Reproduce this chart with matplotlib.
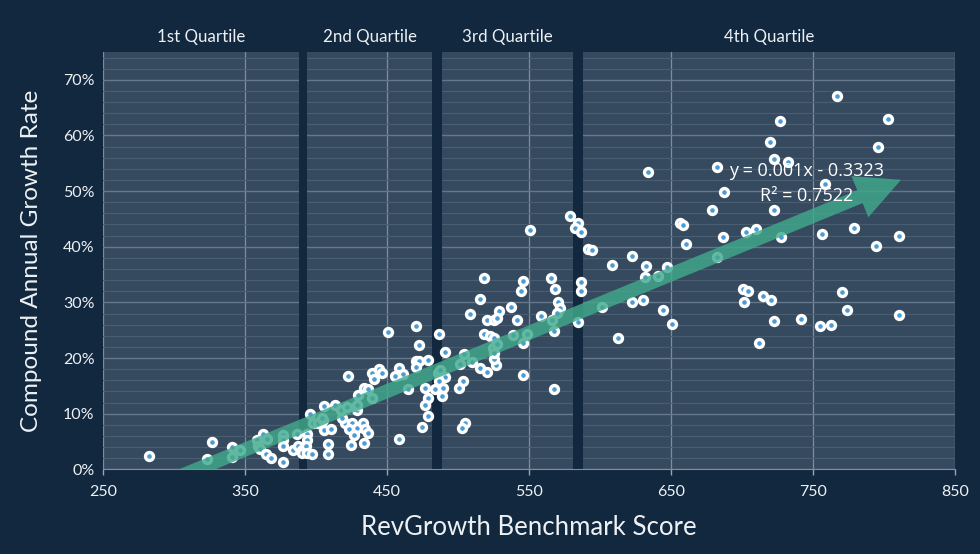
import numpy as np
import matplotlib.pyplot as plt
from matplotlib.patches import FancyArrowPatch
from matplotlib.ticker import MultipleLocator, PercentFormatter
from matplotlib.transforms import blended_transform_factory

# benchmark score / CAGR (%), split in three groups
score_low = [282.8, 327.2, 323.2, 341.2, 341.2, 346.7, 358.4, 359.1, 363.1, 365.5,
             360.7, 365.0, 368.7, 376.9, 376.9, 376.9, 377.1, 383.8, 386.6, 387.7,
             390.5, 390.1, 393.6, 394.0, 392.9, 394.0, 397.1, 395.9, 406.0, 397.8,
             401.8, 405.3, 406.0, 408.4, 408.4, 404.2]
cagr_low = [2.34, 4.91, 1.80, 3.96, 2.16, 3.47, 5.27, 4.19, 6.35, 5.40,
            3.60, 2.70, 2.03, 1.26, 6.23, 5.27, 4.19, 3.47, 6.35, 4.19,
            3.47, 2.99, 6.35, 5.27, 4.19, 2.99, 2.70, 9.90, 11.39, 8.39,
            8.39, 8.87, 7.07, 4.50, 2.75, 9.18]

score_mid = [451.1, 470.3, 486.7, 472.7, 491.2, 504.6, 470.3, 472.7, 479.2, 470.8,
             422.9, 439.8, 444.7, 446.4, 441.2, 458.6, 458.1, 461.2, 455.8, 465.1,
             477.1, 485.8, 487.5, 491.0, 486.7, 483.9, 489.4, 489.1, 503.4, 501.0,
             479.2, 476.9, 478.8, 475.0, 458.6, 505.3, 502.7, 515.6, 520.8, 526.9,
             525.5, 518.6, 522.7, 525.5, 525.0, 525.3, 539.1, 520.3, 525.5, 429.7,
             434.0, 437.0, 439.4, 413.5, 417.5, 429.2, 420.6, 425.3, 428.8, 433.5,
             434.7, 437.0, 423.4, 427.1, 410.7, 424.6, 434.0, 418.3, 421.8, 428.8]
cagr_mid = [24.76, 25.73, 24.29, 22.37, 21.05, 20.80, 19.43, 19.43, 19.61, 18.36,
            16.79, 17.28, 18.00, 17.38, 16.25, 18.28, 16.97, 17.15, 16.79, 14.40,
            14.58, 17.28, 17.87, 16.66, 15.94, 14.40, 14.58, 13.24, 15.89, 14.58,
            12.78, 11.57, 9.65, 7.67, 5.45, 8.39, 7.38, 18.18, 17.56, 18.77,
            19.79, 24.35, 24.04, 23.57, 21.77, 20.87, 24.17, 26.87, 26.87, 13.37,
            14.68, 14.40, 12.78, 11.62, 10.67, 10.67, 8.28, 8.39, 7.43, 8.28,
            7.20, 6.48, 7.20, 6.17, 7.25, 4.37, 4.68, 9.18, 11.27, 11.57]

score_high = [579.0, 584.8, 582.5, 586.5, 551.0, 591.9, 594.2, 622.8, 608.8, 518.6,
              546.1, 544.3, 565.8, 568.4, 586.7, 586.7, 515.6, 570.7, 537.4, 529.2,
              508.6, 527.8, 541.9, 558.6, 571.9, 569.6, 566.1, 584.8, 601.7, 622.6,
              630.2, 567.9, 548.9, 546.1, 527.4, 501.5, 510.2, 546.1, 613.0, 567.9,
              632.5, 647.0, 632.1, 641.1, 656.6, 658.7, 660.3, 679.2, 686.9, 682.6,
              703.0, 710.1, 722.6, 727.7, 756.5, 779.1, 794.4, 810.8, 644.7, 651.0,
              701.0, 704.1, 701.5, 715.0, 720.3, 722.6, 712.2, 741.6, 755.0, 762.9,
              770.7, 774.0, 810.8, 767.2, 727.0, 720.0, 722.6, 732.7, 682.5, 803.1,
              796.0, 634.1, 758.7, 687.6]
cagr_high = [45.53, 44.32, 43.37, 42.65, 43.01, 39.64, 39.46, 38.33, 36.76, 34.30,
             33.89, 32.09, 34.46, 32.45, 33.71, 32.09, 30.65, 29.98, 29.21, 28.49,
             27.89, 27.17, 26.87, 27.59, 28.97, 28.07, 26.78, 26.45, 29.26, 30.05,
             30.47, 24.89, 24.29, 22.67, 22.55, 18.89, 19.25, 16.92, 23.66, 14.40,
             36.53, 36.35, 34.52, 34.75, 44.27, 43.91, 40.51, 46.66, 41.77, 38.20,
             42.67, 43.19, 46.66, 41.77, 42.29, 43.37, 40.15, 41.95, 28.67, 26.09,
             32.39, 32.03, 30.05, 31.13, 30.47, 26.69, 22.67, 27.05, 25.79, 25.91,
             31.91, 28.61, 27.77, 67.12, 62.62, 58.84, 55.84, 55.25, 54.35, 63.04,
             57.94, 53.45, 51.34, 49.85]

quartile_names = ['1st Quartile', '2nd Quartile', '3rd Quartile', '4th Quartile']
quartile_gaps = [(388, 394), (482, 489), (581, 588)]

trend_slope = 0.00105
trend_intercept = -0.3323
trend_x = [290, 812]
eq_text = 'y = 0.001x - 0.3323'
r2_text = 'R² = 0.7522'

BG = '#12283f'
PANEL = '#364a5f'
TEXT = '#eef1f4'

score = np.array(score_low + score_mid + score_high)
cagr = np.array(cagr_low + cagr_mid + cagr_high)

fig = plt.figure(figsize=(9.8, 5.54), dpi=100, facecolor=BG)
ax = fig.add_axes([0.1048, 0.1529, 0.8697, 0.7532])
ax.set_facecolor(PANEL)
xmin, xmax = 250, 850
ax.set_xlim(xmin, xmax)
ax.set_ylim(0, 75)

# grid
ax.yaxis.set_major_locator(MultipleLocator(10))
ax.yaxis.set_minor_locator(MultipleLocator(2))
ax.grid(which='major', axis='y', color='#64778b', lw=1.0, zorder=0)
ax.grid(which='minor', axis='y', color='#4a5e72', lw=0.8, zorder=0)
ax.grid(which='major', axis='x', color='#7f8c9a', lw=0.9, zorder=0)
ax.set_axisbelow(True)
ax.set_xticks(np.arange(250, 851, 100))

# dark gaps between quartiles
for a, b in quartile_gaps:
    ax.axvspan(a, b, color=BG, lw=0, zorder=1)

# quartile labels centred in each region
edges = [xmin] + [v for g in quartile_gaps for v in g] + [xmax]
trans = blended_transform_factory(ax.transData, ax.transAxes)
for i, name in enumerate(quartile_names):
    cx = (edges[2 * i] + edges[2 * i + 1]) / 2
    ax.text(cx, 1.036, name, transform=trans, ha='center', va='center',
            color=TEXT, fontsize=12.2, family='Lato')

ax.scatter(score, cagr, s=33, c='#4b9cd6', edgecolors='white',
           linewidths=2.4, zorder=3)

# trend arrow
ty = [100 * (trend_slope * x + trend_intercept) for x in trend_x]
arrow = FancyArrowPatch((trend_x[0], ty[0]), (trend_x[1], ty[1]),
                        arrowstyle='simple,head_width=32,head_length=32,tail_width=10',
                        mutation_scale=1, shrinkA=0, shrinkB=0,
                        color='#41a98c', alpha=0.82, lw=0, zorder=4)
ax.add_patch(arrow)

ax.text(745.8, 53.7, eq_text, ha='center', va='center', color='white',
        fontsize=13, family='Open Sans', zorder=5)
ax.text(745.8, 49.1, r2_text, ha='center', va='center', color='white',
        fontsize=13, family='Open Sans', zorder=5)

ax.yaxis.set_major_formatter(PercentFormatter(100, decimals=0))
for s in ['top', 'right', 'left']:
    ax.spines[s].set_visible(False)
ax.spines['bottom'].set_color('#7f8c9a')
ax.tick_params(axis='x', colors='#9aa6b2', length=4, width=1, labelcolor=TEXT,
               labelsize=11.5, pad=7)
ax.tick_params(axis='y', which='both', length=0, labelcolor=TEXT, labelsize=11.5, pad=6)
for lbl in ax.get_xticklabels() + ax.get_yticklabels():
    lbl.set_family('Lato')

ax.set_xlabel('RevGrowth Benchmark Score', color=TEXT, fontsize=18.5,
              family='Lato', labelpad=12)
ax.set_ylabel('Compound Annual Growth Rate', color=TEXT, fontsize=17.5,
              family='Lato', labelpad=15)

fig.savefig('out.png', dpi=100, facecolor=BG)
